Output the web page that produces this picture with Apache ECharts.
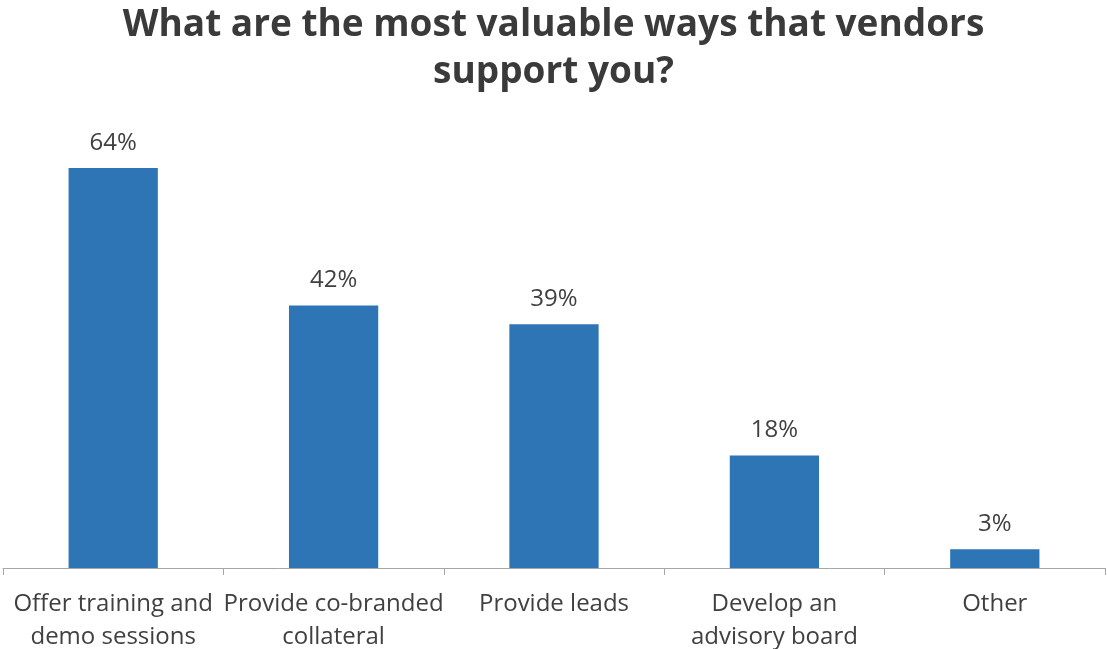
<!DOCTYPE html>
<html>
<head>
<meta charset="utf-8">
<script src="https://cdn.jsdelivr.net/npm/echarts@6/dist/echarts.min.js"></script>
<style>
    html, body { margin: 0; padding: 0; background: #fff; }
    #chart { width: 1107px; height: 649px; }
</style>
</head>
<body>
<div id="chart"></div>
<script>
    // data
    const categories = [
        'Offer training and\ndemo sessions',
        'Provide co-branded\ncollateral',
        'Provide leads',
        'Develop an\nadvisory board',
        'Other'
    ];
    const shares = [64, 42, 39, 18, 3];

    const chart = echarts.init(document.getElementById('chart'));

    const option = {
        backgroundColor: '#fff',
        title: {
            text: 'What are the most valuable ways that vendors\nsupport you?',
            left: 'center',
            top: -3,
            textStyle: {
                fontFamily: 'Open Sans',
                fontWeight: 'bold',
                fontSize: 37,
                lineHeight: 47,
                color: '#3a3a3a'
            }
        },
        grid: {
            left: 3,
            right: 2,
            top: 118,
            bottom: 81,
            outerBoundsMode: 'none'
        },
        xAxis: {
            type: 'category',
            data: categories,
            axisLine: { lineStyle: { color: '#a6a6a6', width: 1 } },
            axisTick: { show: true, length: 7, lineStyle: { color: '#a6a6a6' } },
            axisLabel: {
                interval: 0,
                margin: 20,
                fontFamily: 'Open Sans',
                fontSize: 24,
                lineHeight: 33,
                color: '#404040'
            }
        },
        yAxis: {
            type: 'value',
            min: 0,
            max: 72,
            show: false,
            splitLine: { show: false }
        },
        series: [
            {
                type: 'bar',
                data: shares,
                barWidth: '40.5%',
                itemStyle: { color: '#2e75b6' },
                label: {
                    show: true,
                    position: 'top',
                    distance: 13,
                    formatter: '{c}%',
                    fontFamily: 'Open Sans',
                    fontSize: 24,
                    color: '#404040'
                }
            }
        ]
    };

    chart.setOption(option);
</script>
</body>
</html>
